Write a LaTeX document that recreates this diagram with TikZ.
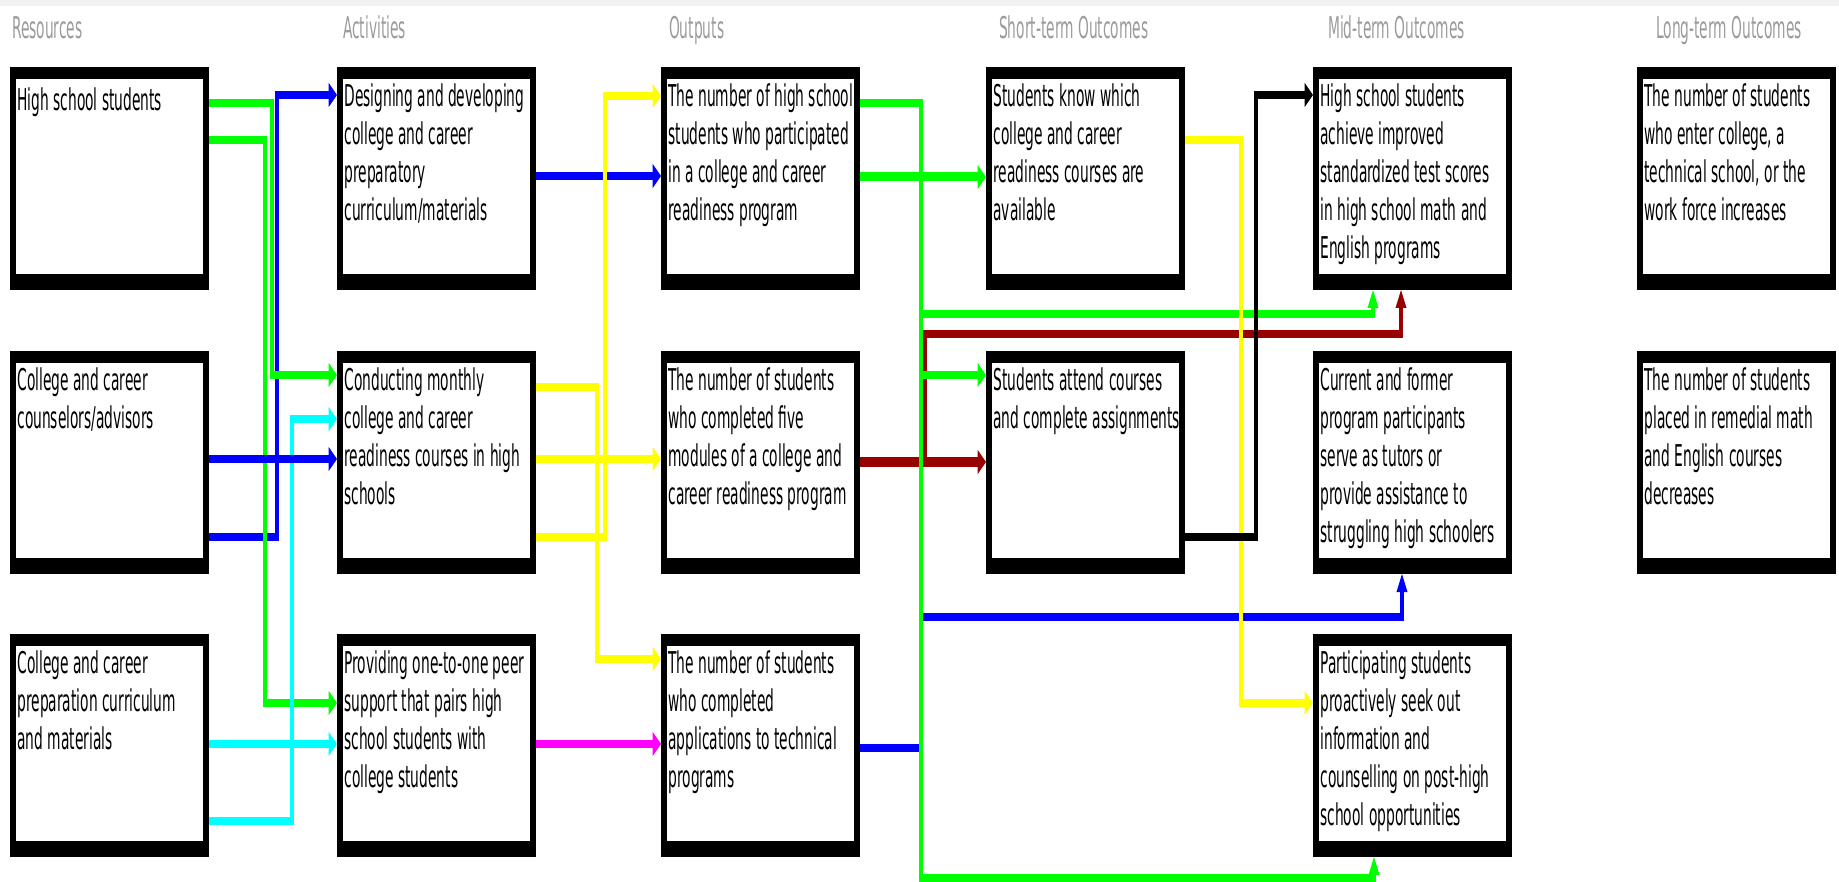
\documentclass[tikz,border=0pt]{standalone}
\usepackage{fontspec}
\setmainfont{DejaVu Sans}
\usepackage{tikz}
\usetikzlibrary{arrows.meta}

\definecolor{ngreen}{RGB}{0,255,0}
\definecolor{nblue}{RGB}{0,0,255}
\definecolor{ncyan}{RGB}{0,255,255}
\definecolor{nyellow}{RGB}{255,255,0}
\definecolor{nmagenta}{RGB}{255,0,255}
\definecolor{nmaroon}{RGB}{153,0,0}
\definecolor{headgray}{RGB}{155,155,155}

\tikzset{
  box/.style={draw, line width=12pt, anchor=north west,
    minimum width=420pt, minimum height=211pt, inner sep=0pt},
  txt/.style={anchor=north west, inner sep=0pt, align=left,
    font=\fontsize{30}{38}\selectfont, execute at begin node=\strut},
  head/.style={anchor=base west, inner sep=0pt, text=headgray,
    font=\fontsize{30}{36}\selectfont},
  ln/.style={line width=7.5pt},
  arr/.style={ln, -{Triangle[length=18pt,width=24pt,line width=0pt]}}
}

\begin{document}
\begin{tikzpicture}[x=1pt, y=-1pt]
  \useasboundingbox (0,0) rectangle (1839,882);
  \fill[black!5] (0,0) rectangle (1839,6);

  \begin{scope}[transform canvas={xscale=0.46}, x=2.1739pt]
    % column heads
    \node[head] (hres) at (12,39) {Resources};
    \node[head] (hact) at (343,39) {Activities};
    \node[head] (hout) at (669,39) {Outputs};
    \node[head] (hst) at (999,39) {Short-term Outcomes};
    \node[head] (hmt) at (1328,39) {Mid-term Outcomes};
    \node[head] (hlt) at (1656,39) {Long-term Outcomes};

    % boxes
    \node[box] (res1) at (10,67) {};
    \node[box] (res2) at (10,351) {};
    \node[box] (res3) at (10,634) {};
    \node[box] (act1) at (337,67) {};
    \node[box] (act2) at (337,351) {};
    \node[box] (act3) at (337,634) {};
    \node[box] (out1) at (661,67) {};
    \node[box] (out2) at (661,351) {};
    \node[box] (out3) at (661,634) {};
    \node[box] (st1) at (986,67) {};
    \node[box] (st2) at (986,351) {};
    \node[box] (mt1) at (1313,67) {};
    \node[box] (mt2) at (1313,351) {};
    \node[box] (mt3) at (1313,634) {};
    \node[box] (lt1) at (1637,67) {};
    \node[box] (lt2) at (1637,351) {};

    \foreach \b in {res1,res2,res3,act1,act2,act3,out1,out2,out3,st1,st2,mt1,mt2,mt3,lt1,lt2}
      \fill ([yshift=16pt]\b.south west) rectangle ([yshift=10pt]\b.south east);

    % texts
    \node[txt] (res1t) at ([xshift=16pt,yshift=-17pt]res1.north west) {High school students};
    \node[txt] (res2t) at ([xshift=16pt,yshift=-17pt]res2.north west) {College and career\\counselors/advisors};
    \node[txt] (res3t) at ([xshift=16pt,yshift=-17pt]res3.north west) {College and career\\preparation curriculum\\and materials};
    \node[txt] (act1t) at ([xshift=16pt,yshift=-17pt]act1.north west) {Designing and developing\\college and career\\preparatory\\curriculum/materials};
    \node[txt] (act2t) at ([xshift=16pt,yshift=-17pt]act2.north west) {Conducting monthly\\college and career\\readiness courses in high\\schools};
    \node[txt] (act3t) at ([xshift=16pt,yshift=-17pt]act3.north west) {Providing one-to-one peer\\support that pairs high\\school students with\\college students};
    \node[txt] (out1t) at ([xshift=16pt,yshift=-17pt]out1.north west) {The number of high school\\students who participated\\in a college and career\\readiness program};
    \node[txt] (out2t) at ([xshift=16pt,yshift=-17pt]out2.north west) {The number of students\\who completed five\\modules of a college and\\career readiness program};
    \node[txt] (out3t) at ([xshift=16pt,yshift=-17pt]out3.north west) {The number of students\\who completed\\applications to technical\\programs};
    \node[txt] (st1t) at ([xshift=16pt,yshift=-17pt]st1.north west) {Students know which\\college and career\\readiness courses are\\available};
    \node[txt] (st2t) at ([xshift=16pt,yshift=-17pt]st2.north west) {Students attend courses\\and complete assignments};
    \node[txt] (mt1t) at ([xshift=16pt,yshift=-17pt]mt1.north west) {High school students\\achieve improved\\standardized test scores\\in high school math and\\English programs};
    \node[txt] (mt2t) at ([xshift=16pt,yshift=-17pt]mt2.north west) {Current and former\\program participants\\serve as tutors or\\provide assistance to\\struggling high schoolers};
    \node[txt] (mt3t) at ([xshift=16pt,yshift=-17pt]mt3.north west) {Participating students\\proactively seek out\\information and\\counselling on post-high\\school opportunities};
    \node[txt] (lt1t) at ([xshift=16pt,yshift=-17pt]lt1.north west) {The number of students\\who enter college, a\\technical school, or the\\work force increases};
    \node[txt] (lt2t) at ([xshift=16pt,yshift=-17pt]lt2.north west) {The number of students\\placed in remedial math\\and English courses\\decreases};

    % resources -> activities
    \draw[arr, nblue] ([yshift=-186pt]res2.north east) -| (277,95) -- ([yshift=-28pt]act1.north west);
    \draw[arr, ngreen] ([yshift=-36pt]res1.north east) -| (272,375) -- ([yshift=-24pt]act2.north west);
    \draw[arr, ngreen] ([yshift=-73pt]res1.north east) -| (265,703) -- ([yshift=-69pt]act3.north west);
    \draw[arr, ncyan] ([yshift=-110pt]res3.north east) -- ([yshift=-110pt]act3.north west);
    \draw[arr, ncyan] ([yshift=-187pt]res3.north east) -| (292,419) -- ([yshift=-68pt]act2.north west);
    \draw[arr, nblue] ([yshift=-108pt]res2.north east) -- ([yshift=-108pt]act2.north west);

    % activities -> outputs
    \draw[arr, nblue] ([yshift=-109pt]act1.north east) -- ([yshift=-109pt]out1.north west);
    \draw[arr, nyellow] ([yshift=-186pt]act2.north east) -| (605,96) -- ([yshift=-29pt]out1.north west);
    \draw[arr, nyellow] ([yshift=-108pt]act2.north east) -- ([yshift=-108pt]out2.north west);
    \draw[arr, nyellow] ([yshift=-36pt]act2.north east) -| (597,659) -- ([yshift=-25pt]out3.north west);
    \draw[arr, nmagenta] ([yshift=-110pt]act3.north east) -- ([yshift=-110pt]out3.north west);

    % outputs -> outcomes
    \draw[arr, nblue] ([yshift=-114pt]out3.north east) -| (921,617) -| (1402,0 |- mt2.south);
    \draw[arr, nmaroon, line width=10pt] ([yshift=-111pt]out2.north east) -- ([yshift=-111pt]st2.north west);
    \draw[arr, nmaroon] ([yshift=-111pt]out2.north east) -| (925,334) -| (1401,0 |- mt1.south);
    \draw[arr, ngreen, line width=9pt] ([yshift=-110pt]out1.north east) -- ([yshift=-110pt]st1.north west);
    \draw[arr, ngreen] ([yshift=-36pt]out1.north east) -| (921,314) -| (1373,0 |- mt1.south);
    \draw[arr, ngreen] ([yshift=-36pt]out1.north east) -| (921,375) -- ([yshift=-24pt]st2.north west);
    \draw[arr, ngreen] ([yshift=-36pt]out1.north east) -| (921,878) -| (1374,0 |- mt3.south);

    % short-term -> mid-term
    \draw[arr, nyellow] ([yshift=-73pt]st1.north east) -| (1241,703) -- ([yshift=-69pt]mt3.north west);
    \draw[arr] ([yshift=-186pt]st2.north east) -| (1256,95) -- ([yshift=-28pt]mt1.north west);
  \end{scope}
\end{tikzpicture}
\end{document}
